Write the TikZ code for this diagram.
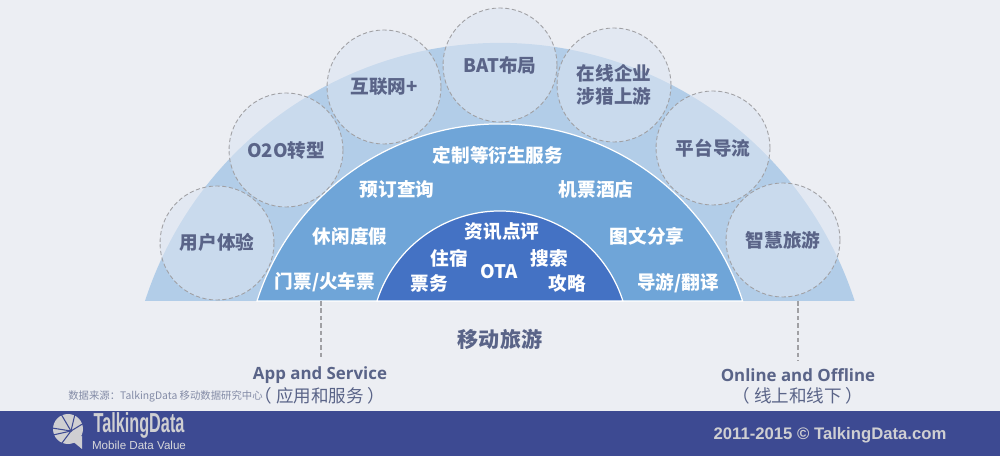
\documentclass[tikz,border=0pt]{standalone}
\usepackage{fontspec}
\setmainfont{Noto Sans CJK SC}
\newfontfamily\arialfont{Liberation Sans}
\newfontfamily\headfont{Open Sans}
\definecolor{pagebg}{HTML}{ECEEF3}
\definecolor{outerblue}{HTML}{B2CDE8}
\definecolor{midblue}{HTML}{6FA5D8}
\definecolor{innerblue}{HTML}{4472C4}
\definecolor{inkblue}{HTML}{5A6488}
\definecolor{bubblefill}{HTML}{DCE5F2}
\definecolor{footblue}{HTML}{3D4A92}
\definecolor{footgrey}{HTML}{CFCFD2}
\definecolor{dashgrey}{HTML}{A0A0A4}
\tikzset{
  bubble/.style={circle,draw=dashgrey,line width=0.5pt,dash pattern=on 2.4pt off 1.4pt,
    fill=bubblefill,fill opacity=0.57,text opacity=1,draw opacity=1,minimum size=2.28cm,inner sep=0pt,
    align=center,text=inkblue,font=\fontsize{10.6}{13.5}\selectfont\bfseries},
  whitelabel/.style={text=white,inner sep=0pt,font=\fontsize{10.6}{13}\selectfont\bfseries},
  sublabel/.style={text=inkblue,inner sep=0pt,font=\fontsize{10}{12}\selectfont},
  headlabel/.style={text=inkblue,inner sep=0pt,font=\fontsize{9.6}{12}\selectfont\headfont\bfseries},
  leader/.style={draw=dashgrey,line width=0.8pt,dash pattern=on 2.6pt off 1.6pt,shorten >=4pt},
}
\begin{document}
\begin{tikzpicture}
\useasboundingbox (0,0) rectangle (20,9.12);
\fill[pagebg] (0,0) rectangle (20,9.12);
\fill[footblue] (0,0) rectangle (20,0.9);

% half rings
\fill[outerblue] (2.9,3.1) arc[start angle=162.05,end angle=17.95,radius=7.46] -- cycle;
\filldraw[fill=midblue,draw=white,line width=0.7pt] (5.14,3.1) arc[start angle=162.2,end angle=17.8,radius=5.1] -- cycle;
\filldraw[fill=innerblue,draw=white,line width=0.7pt] (7.54,3.1) arc[start angle=162.4,end angle=17.6,radius=2.58] -- cycle;

% circles on the outer ring
\node [bubble] (n0) at (4.34,4.26) {\raisebox{1.5pt}{用户体验}};
\node [bubble] (n1) at (5.72,6.12) {O2O转型};
\node [bubble] (n2) at (7.68,7.38) {\raisebox{1.5pt}{互联网+}};
\node [bubble] (n3) at (10.0,7.82) {BAT布局};
\node [bubble] (n4) at (12.28,7.42) {在线企业\\涉猎上游};
\node [bubble] (n5) at (14.26,6.16) {平台导流};
\node [bubble] (n6) at (15.66,4.32) {智慧旅游};

% middle ring
\node [whitelabel] (m0) at (9.96,6.02) {定制等衍生服务};
\node [whitelabel] (m1) at (7.94,5.34) {预订查询};
\node [whitelabel] (m2) at (11.92,5.34) {机票酒店};
\node [whitelabel] (m3) at (7.0,4.4) {休闲度假};
\node [whitelabel] (m4) at (12.94,4.4) {图文分享};
\node [whitelabel] (m5) at (6.5,3.48) {门票/火车票};
\node [whitelabel] (m6) at (13.56,3.46) {导游/翻译};

% inner ring
\node [whitelabel] (i0) at (10.04,4.48) {资讯点评};
\node [whitelabel] (i1) at (8.98,3.96) {住宿};
\node [whitelabel] (i2) at (10.98,3.96) {搜索};
\node [whitelabel] (i3) at (9.98,3.68) {OTA};
\node [whitelabel] (i4) at (8.58,3.46) {票务};
\node [whitelabel] (i5) at (11.34,3.46) {攻略};

\node [text=inkblue,inner sep=0pt,font=\fontsize{12}{14}\selectfont\bfseries] (t0) at (10.0,2.34) {移动旅游};

\coordinate (c0) at (6.42,3.1);
\coordinate (c1) at (15.96,3.1);
\node [headlabel] (t1) at (6.4,1.62) {App and Service};
\node [sublabel] (t2) at (6.4,1.2) {（ 应用和服务 ）};
\node [headlabel] (t3) at (15.96,1.62) {Online and Offline};
\node [sublabel] (t4) at (15.96,1.2) {（ 线上和线下 ）};
\draw[leader] (c0) -- (t1.north -| c0);
\draw[leader] (c1) -- (t3.north -| c1);

\node [text=inkblue!75,inner sep=0pt,font=\fontsize{5.9}{7}\selectfont] (s0) at (3.31,1.2) {数据来源：TalkingData 移动数据研究中心};

% footer
\fill[footgrey] (1.36,0.54) circle (0.3);
\fill[footgrey] (1.42,0.32) -- (1.64,0.14) -- (1.64,0.4) -- cycle;
\draw[footblue,line width=0.6pt] (1.04,0.56) -- (1.42,0.5) -- (1.22,0.84);
\draw[footblue,line width=0.6pt] (1.42,0.5) -- (1.5,0.84);
\draw[footblue,line width=0.6pt] (1.42,0.5) -- (1.68,0.66);
\draw[footblue,line width=0.6pt] (1.42,0.5) -- (1.24,0.26);
\draw[footblue,line width=0.6pt] (1.42,0.5) -- (1.06,0.42);
\node [text=footgrey,inner sep=0pt,xscale=0.68,yscale=1.15,font=\fontsize{13.6}{15}\selectfont\arialfont\bfseries] (f0) at (2.78,0.61) {TalkingData};
\node [text=footgrey!80,inner sep=0pt,font=\fontsize{6.6}{8}\selectfont\arialfont] (f1) at (2.78,0.22) {Mobile Data Value};
\node [text=footgrey,inner sep=0pt,font=\fontsize{9.5}{11}\selectfont\arialfont\bfseries] (f2) at (16.6,0.42) {2011-2015 © TalkingData.com};
\end{tikzpicture}
\end{document}
